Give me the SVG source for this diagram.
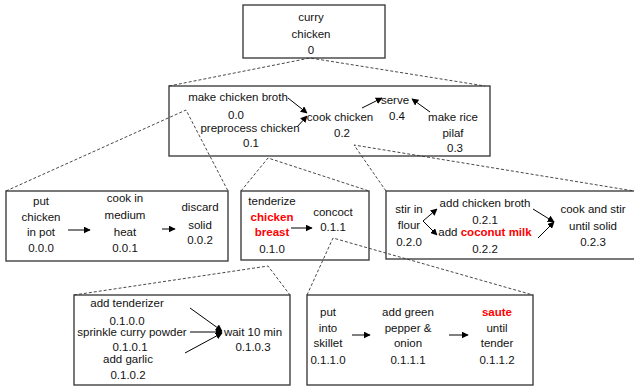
<svg xmlns="http://www.w3.org/2000/svg" width="634" height="388" viewBox="0 0 634 388">
<defs>
<marker id="ah" viewBox="0 0 10 10" refX="9" refY="5" markerWidth="7" markerHeight="7" markerUnits="userSpaceOnUse" orient="auto"><path d="M0,0 L10,5 L0,10 z" fill="#000"/></marker>
<style>
text{font-family:"Liberation Sans",Arial,sans-serif;font-size:11.5px;fill:#111;text-anchor:middle}
.r{fill:#f00;font-weight:bold}
.box{fill:#fff;stroke:#404040;stroke-width:1.4}
.dash{fill:none;stroke:#333;stroke-width:0.9;stroke-dasharray:3,2}
.arr{fill:none;stroke:#000;stroke-width:1;marker-end:url(#ah)}
</style>
</defs>
<rect width="634" height="388" fill="#fff"/>
<g id="n0"><rect class="box" x="243" y="5" width="142" height="53"/>
<text x="311" y="21">curry</text><text x="311" y="38">chicken</text><text x="311" y="54">0</text></g>
<g id="n0x"><rect class="box" x="169" y="86" width="321" height="70"/>
<text x="238" y="101">make chicken broth</text><text x="236" y="119">0.0</text>
<text x="250" y="132">preprocess chicken</text><text x="251" y="147">0.1</text>
<text x="340" y="121">cook chicken</text><text x="342" y="137">0.2</text>
<text x="395" y="104">serve</text><text x="397" y="120">0.4</text>
<text x="453" y="121">make rice</text><text x="453" y="137">pilaf</text><text x="455" y="152">0.3</text></g>
<g id="n00x"><rect class="box" x="6" y="191" width="222" height="70"/>
<text x="41" y="205">put</text><text x="41" y="221">chicken</text><text x="41" y="236">in pot</text><text x="41" y="252">0.0.0</text>
<text x="125" y="202">cook in</text><text x="125" y="219">medium</text><text x="125" y="236">heat</text><text x="125" y="252">0.0.1</text>
<text x="200" y="211">discard</text><text x="200" y="229">solid</text><text x="200" y="244">0.0.2</text></g>
<g id="n01x"><rect class="box" x="241" y="191" width="128" height="69"/>
<text x="272" y="205">tenderize</text><text class="r" x="272" y="221">chicken</text><text class="r" x="272" y="236">breast</text><text x="272" y="253">0.1.0</text>
<text x="333" y="216">concoct</text><text x="333" y="231">0.1.1</text></g>
<g id="n02x"><rect class="box" x="386" y="191" width="260" height="68"/>
<text x="409" y="213">stir in</text><text x="409" y="229">flour</text><text x="409" y="246">0.2.0</text>
<text x="485" y="207">add chicken broth</text><text x="485" y="224">0.2.1</text>
<text x="485" y="236">add <tspan class="r">coconut milk</tspan></text><text x="485" y="253">0.2.2</text>
<text x="593" y="213">cook and stir</text><text x="593" y="230">until solid</text><text x="593" y="246">0.2.3</text></g>
<g id="n010x"><rect class="box" x="74" y="295" width="216" height="90"/>
<text x="127" y="307">add tenderizer</text><text x="127" y="325">0.1.0.0</text>
<text x="132" y="336">sprinkle curry powder</text><text x="130" y="351">0.1.0.1</text>
<text x="128" y="363">add garlic</text><text x="128" y="379">0.1.0.2</text>
<text x="253" y="336">wait 10 min</text><text x="253" y="351">0.1.0.3</text></g>
<g id="n011x"><rect class="box" x="307" y="295" width="226" height="90"/>
<text x="328" y="316">put</text><text x="328" y="332">into</text><text x="328" y="347">skillet</text><text x="328" y="364">0.1.1.0</text>
<text x="408" y="316">add green</text><text x="408" y="332">pepper &amp;</text><text x="408" y="347">onion</text><text x="408" y="364">0.1.1.1</text>
<text class="r" x="497" y="316">saute</text><text x="497" y="332">until</text><text x="497" y="347">tender</text><text x="497" y="364">0.1.1.2</text></g>
<g id="connectors">
<path class="dash" d="M169,86 L310,58 L485,86"/>
<path class="dash" d="M6,191 L186,110 L228,191"/>
<path class="dash" d="M241,191 L268,158 L369,191"/>
<path class="dash" d="M386,191 L354,145 L640,192"/>
<path class="dash" d="M74,295 L268,266 L290,295"/>
<path class="dash" d="M307,295 L333,238 L533,295"/>
<path class="arr" d="M288,98 L307,113"/>
<path class="arr" d="M297,127 L307,116"/>
<path class="arr" d="M362,108 L382,98"/>
<path class="arr" d="M430,112 L412,99"/>
<path class="arr" d="M68,230 L90,230"/>
<path class="arr" d="M162,229 L175,229"/>
<path class="arr" d="M291,228 L312,228"/>
<path class="arr" d="M423,221 L437,209"/>
<path class="arr" d="M423,221 L437,235"/>
<path class="arr" d="M533,209 L554,222"/>
<path class="arr" d="M538,238 L554,222"/>
<path class="arr" d="M190,308 L222,331"/>
<path class="arr" d="M190,332 L222,332"/>
<path class="arr" d="M185,353 L222,333"/>
<path class="arr" d="M352,335 L370,335"/>
<path class="arr" d="M449,335 L468,335"/>
</g>
</svg>
